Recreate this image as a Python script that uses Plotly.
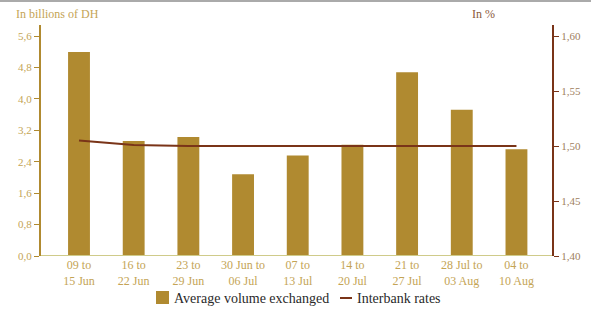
import plotly.graph_objects as go

categories = ["09 to<br>15 Jun", "16 to<br>22 Jun", "23 to<br>29 Jun", "30 Jun to<br>06 Jul",
              "07 to<br>13 Jul", "14 to<br>20 Jul", "21 to<br>27 Jul", "28 Jul to<br>03 Aug",
              "04 to<br>10 Aug"]
volume = [5.19, 2.93, 3.03, 2.08, 2.56, 2.83, 4.68, 3.72, 2.72]
rates = [1.505, 1.501, 1.50, 1.50, 1.50, 1.50, 1.50, 1.50, 1.50]
left_ticks = [0.0, 0.8, 1.6, 2.4, 3.2, 4.0, 4.8, 5.6]
left_labels = ["0,0", "0,8", "1,6", "2,4", "3,2", "4,0", "4,8", "5,6"]
right_ticks = [1.40, 1.45, 1.50, 1.55, 1.60]
right_labels = ["1,40", "1,45", "1,50", "1,55", "1,60"]
series_names = ["Average volume exchanged", "Interbank rates"]

GOLD = "#B08A30"
TICK_GOLD = "#C4A455"
BROWN = "#7A3418"
RIGHT_TICK = "#A0805E"
FONT = "Liberation Serif"
W, H = 591, 311
ML, MR, MT, MB = 41, 39, 25, 55
PW, PH = W - ML - MR, H - MT - MB

def px_x(px):
    return (px - ML) / PW

def px_y(py):
    return (H - MB - py) / PH

fig = go.Figure()
fig.add_trace(go.Bar(x=list(range(len(categories))), y=volume, name=series_names[0],
                     marker=dict(color=GOLD, line=dict(width=0)), width=0.40))
fig.add_trace(go.Scatter(x=list(range(len(categories))), y=rates, name=series_names[1], yaxis="y2",
                         mode="lines", line=dict(color=BROWN, width=2)))

fig.update_layout(
    width=W, height=H,
    margin=dict(l=ML, r=MR, t=MT, b=MB, autoexpand=False),
    paper_bgcolor="white", plot_bgcolor="white",
    font=dict(family=FONT, color=TICK_GOLD, size=11),
    showlegend=False,
    xaxis=dict(tickmode="array", tickvals=list(range(len(categories))), ticktext=categories,
               range=[-0.695, 8.65], showgrid=False, zeroline=False, showline=False,
               ticks="", tickfont=dict(family=FONT, size=12, color=TICK_GOLD)),
    yaxis=dict(range=[0, 5.88], tickmode="array", tickvals=left_ticks, ticktext=left_labels,
               showgrid=False, zeroline=False, showline=True, linecolor=GOLD, linewidth=2,
               ticks="outside", ticklen=5, tickcolor=GOLD, tickwidth=1,
               tickfont=dict(family=FONT, size=11, color=TICK_GOLD)),
    yaxis2=dict(range=[1.40, 1.61], overlaying="y", side="right", tickmode="array",
                tickvals=right_ticks, ticktext=right_labels, showgrid=False, zeroline=False,
                showline=True, linecolor=BROWN, linewidth=2, ticks="outside", ticklen=5,
                tickcolor=BROWN, tickwidth=1,
                tickfont=dict(family=FONT, size=11, color=RIGHT_TICK)),
)
# baseline
fig.add_shape(type="line", xref="paper", yref="y", x0=0, x1=1, y0=0, y1=0,
              line=dict(color="#CFCB8A", width=2))
# top frame line
fig.add_shape(type="line", xref="paper", yref="paper", x0=px_x(0), x1=px_x(W), y0=px_y(1), y1=px_y(1),
              line=dict(color="#AAAAAA", width=2))
fig.add_annotation(text="In billions of DH", xref="paper", yref="paper", x=px_x(14), y=px_y(14),
                   xanchor="left", yanchor="middle", showarrow=False,
                   font=dict(family=FONT, size=12, color=TICK_GOLD))
fig.add_annotation(text="In %", xref="paper", yref="paper", x=px_x(497), y=px_y(14),
                   xanchor="right", yanchor="middle", showarrow=False,
                   font=dict(family=FONT, size=12, color="#8A5A3A"))
# manual legend
fig.add_shape(type="rect", xref="paper", yref="paper", x0=px_x(156), x1=px_x(169),
              y0=px_y(304), y1=px_y(291), fillcolor=GOLD, line=dict(width=0))
fig.add_annotation(text=series_names[0], xref="paper", yref="paper", x=px_x(172), y=px_y(298),
                   xanchor="left", yanchor="middle", showarrow=False,
                   font=dict(family=FONT, size=14, color="#2a2a2a"))
fig.add_shape(type="line", xref="paper", yref="paper", x0=px_x(340), x1=px_x(352),
              y0=px_y(298), y1=px_y(298), line=dict(color=BROWN, width=2))
fig.add_annotation(text=series_names[1], xref="paper", yref="paper", x=px_x(355), y=px_y(298),
                   xanchor="left", yanchor="middle", showarrow=False,
                   font=dict(family=FONT, size=14, color="#2a2a2a"))

fig.write_html("out.html", config={"displayModeBar": False},
               post_script="document.body.style.margin='0';document.body.style.overflow='hidden';")
